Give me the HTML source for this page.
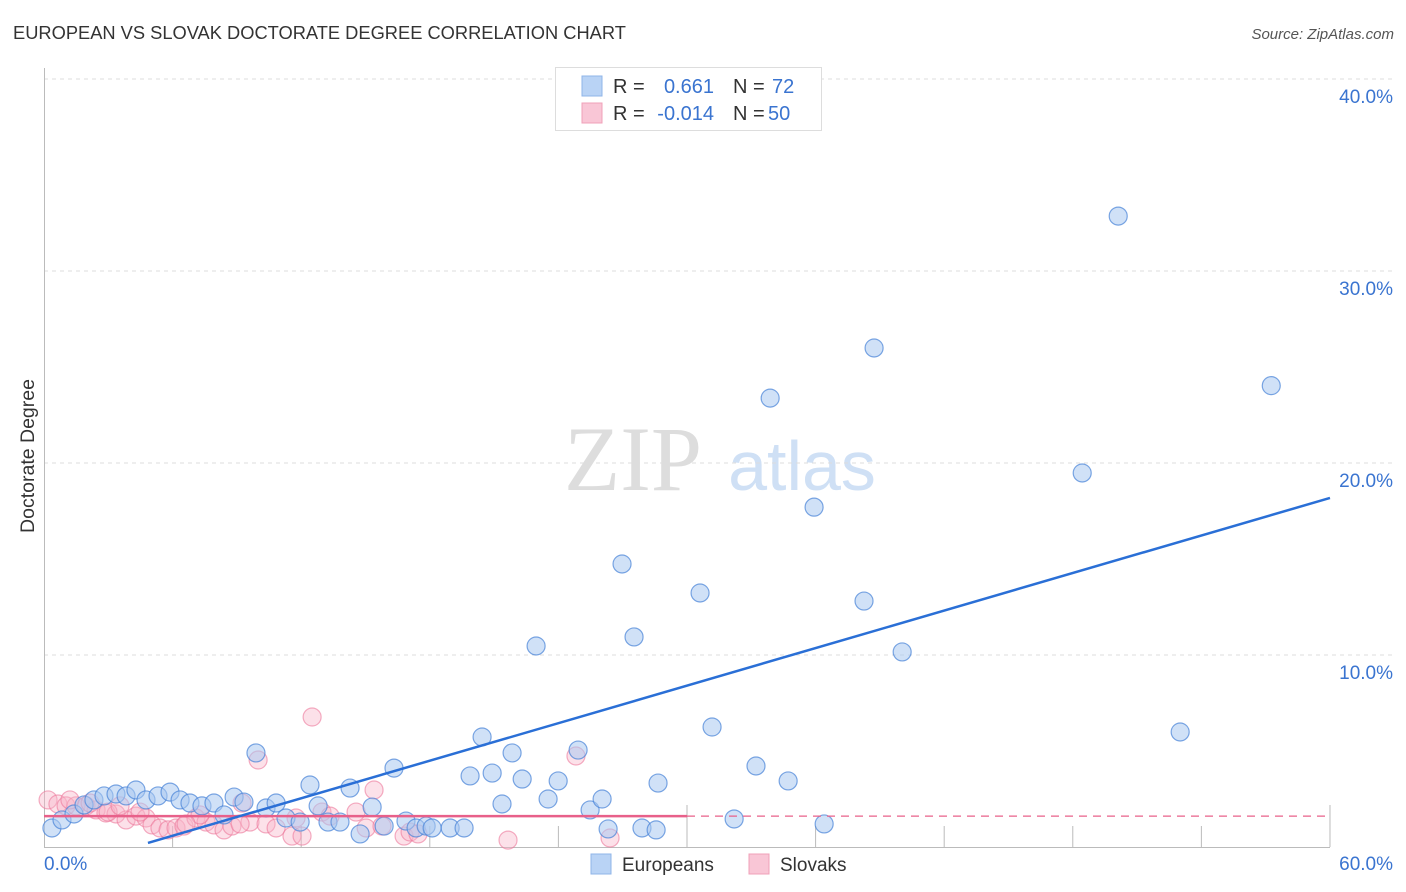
<!DOCTYPE html>
<html><head><meta charset="utf-8">
<style>
body{margin:0;background:#fff;font-family:"Liberation Sans",sans-serif;}
#wrap{position:relative;width:1406px;height:892px;overflow:hidden;}
</style></head>
<body>
<div id="wrap">
<svg id="chart" width="1406" height="892" xmlns="http://www.w3.org/2000/svg">
<text x="13" y="39" font-size="18.3" fill="#333">EUROPEAN VS SLOVAK DOCTORATE DEGREE CORRELATION CHART</text>
<text x="1394" y="39" font-size="15" fill="#555" font-style="italic" text-anchor="end">Source: ZipAtlas.com</text>
<text x="34" y="456" font-size="19.5" fill="#333" transform="rotate(-90 34 456)" text-anchor="middle">Doctorate Degree</text>
<g>
<text x="633" y="490" font-size="92" fill="#ddd" font-family="Liberation Serif,serif" text-anchor="middle">ZIP</text>
<text x="802" y="490" font-size="70" fill="#cfe0f5" text-anchor="middle">atlas</text>
</g>
<g id="grid"></g>
<g id="axes"></g>
<g id="marks"></g>
<g>
<rect x="555.5" y="67.5" width="266" height="63" fill="#fff" stroke="#ddd"/>
<rect x="582" y="76" width="20" height="20" fill="#b9d3f5" stroke="#8fb5e8"/>
<rect x="582" y="103" width="20" height="20" fill="#f9c6d6" stroke="#f0a0b8"/>
<text x="613" y="93" font-size="20" fill="#333">R = </text><text x="714" y="93" font-size="20" fill="#3a74d0" text-anchor="end">0.661</text>
<text x="733" y="93" font-size="20" fill="#333">N = </text><text x="772" y="93" font-size="20" fill="#3a74d0">72</text>
<text x="613" y="120" font-size="20" fill="#333">R = </text><text x="714" y="120" font-size="20" fill="#3a74d0" text-anchor="end">-0.014</text>
<text x="733" y="120" font-size="20" fill="#333">N = </text><text x="768" y="120" font-size="20" fill="#3a74d0">50</text>
</g>
<g>
<rect x="591" y="854" width="20" height="20" fill="#b9d3f5" stroke="#8fb5e8"/>
<text x="622" y="871" font-size="19" fill="#333">Europeans</text>
<rect x="749" y="854" width="20" height="20" fill="#f9c6d6" stroke="#f0a0b8"/>
<text x="780" y="871" font-size="19" fill="#333">Slovaks</text>
</g>
</svg>
</div>
<script>
const blueX=[0.37,0.84,1.40,1.87,2.33,2.80,3.36,3.83,4.29,4.76,5.32,5.88,6.35,6.81,7.37,7.93,8.40,8.87,9.33,9.89,10.36,10.83,11.29,11.95,12.41,12.79,13.25,13.81,14.28,14.75,15.31,15.87,16.33,16.89,17.36,17.83,18.11,18.95,19.60,19.88,20.44,20.91,21.37,21.84,22.31,22.96,23.52,23.99,24.92,25.48,26.04,26.32,26.97,27.53,27.90,28.56,28.65,30.61,31.17,32.20,33.22,33.88,34.72,35.93,36.40,38.26,38.73,40.04,48.44,50.12,53.01,57.26];
const blueY=[0.99,1.41,1.72,2.19,2.45,2.66,2.76,2.66,2.97,2.45,2.66,2.86,2.45,2.29,2.14,2.29,1.67,2.60,2.34,4.90,2.03,2.29,1.51,1.30,3.23,2.14,1.30,1.30,3.07,0.68,2.08,1.09,4.11,1.35,0.99,1.09,0.99,0.99,0.99,3.70,5.73,3.85,2.24,4.90,3.54,10.47,2.50,3.44,5.05,1.93,2.50,0.94,14.74,10.94,0.99,0.89,3.33,13.23,6.25,1.46,4.22,23.38,3.44,17.70,1.20,12.81,25.99,10.16,19.48,32.86,5.99,24.03];
const pinkX=[0.19,0.65,1.03,1.49,1.96,2.43,2.89,3.36,3.83,4.29,4.76,5.04,5.41,5.79,6.16,6.53,7.09,7.56,7.93,8.40,8.77,9.24,9.61,9.99,10.36,10.83,11.57,12.04,12.51,12.97,13.35,14.56,15.03,15.40,15.77,16.80,17.08,17.45,21.65,24.82,26.41,1.21,2.15,2.99,4.48,7.28,6.63,9.15,11.76,3.55];
const pinkY=[2.45,2.24,2.14,2.14,2.14,1.93,1.77,1.72,1.41,1.61,1.51,1.15,0.99,0.89,0.99,1.09,1.51,1.30,1.15,0.89,1.09,2.29,1.30,4.53,1.20,0.99,0.57,0.57,6.77,1.82,1.61,1.82,0.99,2.97,1.09,0.57,0.78,0.68,0.36,4.74,0.47,2.45,2.29,1.82,1.82,1.67,1.20,1.20,1.51,2.14];
const blueTrendX=[4.85,60];
const blueTrendY=[0.21,18.18];
const pinkTrendX=[0,30,60];
const pinkTrendY=[1.61,1.61,1.61];
const yTicks=[10,20,30,40];
const yTickLabels=["10.0%","20.0%","30.0%","40.0%"];
const xTicks=[6,12,18,24,30,36,42,48,54,60];

const X=v=>44+v*21.433, Y=v=>847-v*19.2;
const NS="http://www.w3.org/2000/svg";
function mk(parent,tag,attrs){const e=document.createElementNS(NS,tag);for(const k in attrs)e.setAttribute(k,attrs[k]);document.getElementById(parent).appendChild(e);return e;}

yTicks.forEach((t,i)=>{
  const g=mk('grid','line',{x1:44,x2:1394,y1:Y(t),y2:Y(t),stroke:'#ddd','stroke-dasharray':'4,4'});
  
  
  const l=mk('grid','text',{x:1393,y:Y(t)+24,'font-size':19,fill:'#3a74d0','text-anchor':'end'});
  l.textContent=yTickLabels[i];
  
  
});
let a=mk('axes','line',{x1:44.5,x2:44.5,y1:68,y2:847,stroke:'#bbb'});


a=mk('axes','line',{x1:44,x2:1330,y1:847.5,y2:847.5,stroke:'#bbb'});


xTicks.forEach(t=>{
  const tall=(t===30||t===60);
  const e=mk('axes','line',{x1:X(t),x2:X(t),y1:tall?805:826,y2:847,stroke:'#bbb'});
  
  
});
let xl=mk('axes','text',{x:44,y:870,'font-size':19,fill:'#3a74d0'});xl.textContent='0.0%';


xl=mk('axes','text',{x:1393,y:870,'font-size':19,fill:'#3a74d0','text-anchor':'end'});xl.textContent='60.0%';



pinkX.forEach((v,i)=>{
  const c=mk('marks','circle',{cx:X(v),cy:Y(pinkY[i]),r:9,fill:'rgba(248,180,200,0.4)',stroke:'rgba(236,120,155,0.6)','stroke-width':1.2});
  
  
});
blueX.forEach((v,i)=>{
  const c=mk('marks','circle',{cx:X(v),cy:Y(blueY[i]),r:9,fill:'rgba(170,200,240,0.55)',stroke:'rgba(70,130,215,0.7)','stroke-width':1.2});
  
  
});
let t=mk('marks','line',{x1:X(pinkTrendX[0]),y1:Y(pinkTrendY[0]),x2:X(pinkTrendX[1]),y2:Y(pinkTrendY[1]),stroke:'#e8608a','stroke-width':2.5});


t=mk('marks','line',{x1:X(pinkTrendX[1]),y1:Y(pinkTrendY[1]),x2:X(pinkTrendX[2]),y2:Y(pinkTrendY[2]),stroke:'#e8608a','stroke-width':1.2,'stroke-dasharray':'8,6'});


t=mk('marks','line',{x1:X(blueTrendX[0]),y1:Y(blueTrendY[0]),x2:X(blueTrendX[1]),y2:Y(blueTrendY[1]),stroke:'#2a6fd6','stroke-width':2.5});


</script>
</body></html>
